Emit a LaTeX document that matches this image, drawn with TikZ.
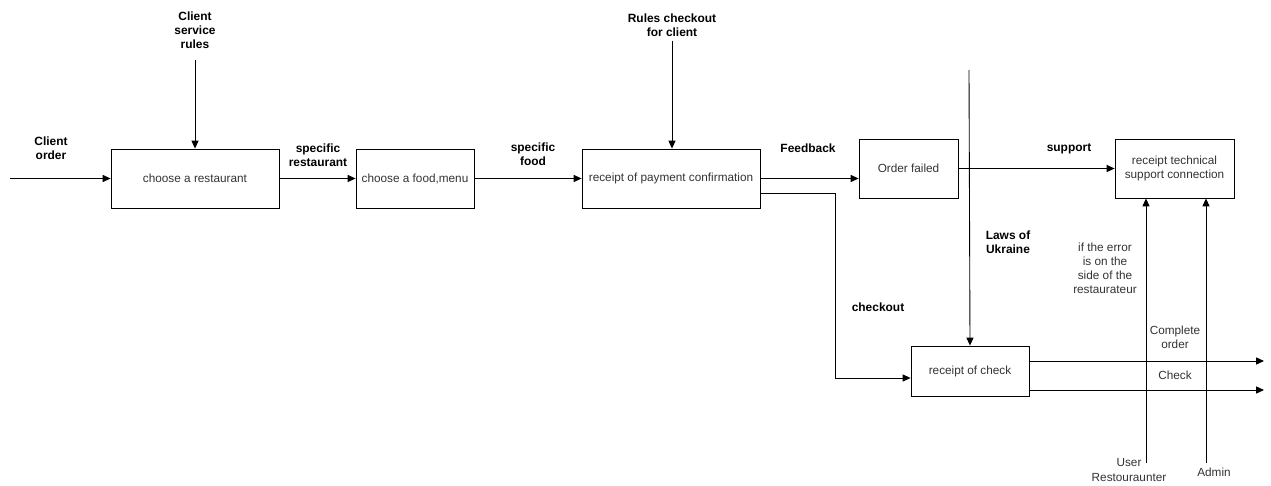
\documentclass[tikz,border=0pt]{standalone}
\usepackage{fontspec}
\setmainfont{Liberation Sans}
\usetikzlibrary{arrows.meta}
\tikzset{
  box/.style={draw, line width=0.5pt, inner sep=0pt, align=center, text=black!80,
    font=\fontsize{6.7}{8}\selectfont},
  lbl/.style={align=center, font=\fontsize{6.8}{8}\selectfont\bfseries},
  note/.style={align=center, text=black!80, font=\fontsize{6.7}{8}\selectfont},
  flow/.style={line width=0.5pt, -{Triangle[length=4.5pt,width=4pt]}},
}
\begin{document}
\begin{tikzpicture}[x=0.02cm, y=-0.02cm]
  \useasboundingbox (0,0) rectangle (1271,486);
  % boxes
  \node[box, minimum width=3.36cm, minimum height=1.18cm] (rest) at (195,178.5) {choose a restaurant};
  \node[box, minimum width=2.36cm, minimum height=1.18cm] (food) at (415,178.5) {choose a food,menu};
  \node[box, minimum width=3.56cm, minimum height=1.18cm] (pay) at (671,178.5) {receipt of payment confirmation};
  \node[box, minimum width=1.98cm, minimum height=1.18cm] (fail) at (908.5,168.5) {Order failed};
  \node[box, minimum width=2.38cm, minimum height=1.18cm] (tech) at (1174.5,168.5) {receipt technical\\support connection};
  \node[box, minimum width=2.36cm, minimum height=1.0cm] (chk) at (970,371) {receipt of check};
  % free ends
  \coordinate (order) at (10,178.5);
  \coordinate (rules) at (195,60);
  \coordinate (rulesck) at (672,41);
  \coordinate (laws) at (969,70);
  \coordinate (usr) at (1146,463);
  \coordinate (adm) at (1206,463);
  \coordinate (outA) at (1264,361);
  \coordinate (outB) at (1264,390);
  % connectors
  \draw[flow] (order) -- (rest.west);
  \draw[flow] (rules) -- (rest.north);
  \draw[flow] (rest) -- (food);
  \draw[flow] (food) -- (pay);
  \draw[flow] (rulesck) -- (pay.north -| rulesck);
  \draw[flow] (pay.east) -- (pay.east -| fail.west);
  \draw[flow] ([yshift=-0.29cm]pay.east) -- ++(75,0) |- ([yshift=-0.14cm]chk.west);
  \draw[flow] (fail) -- (tech);
  \draw[flow] (laws) -- (chk.north);
  \draw[flow] (usr) -- (usr |- tech.south);
  \draw[flow] (adm) -- (adm |- tech.south);
  \draw[flow] (chk.east |- outA) -- (outA);
  \draw[flow] (chk.east |- outB) -- (outB);
  % labels
  \node[lbl] (lorder) at (51,148) {Client\\order};
  \node[lbl] (lrules) at (195,30) {Client\\service\\rules};
  \node[lbl] (lrest) at (318,155) {specific\\restaurant};
  \node[lbl] (lfood) at (533,154) {specific\\food};
  \node[lbl] (lrulesck) at (672,25) {Rules checkout\\for client};
  \node[lbl] (lfeed) at (808,148) {Feedback};
  \node[lbl] (lcheckout) at (878,307) {checkout};
  \node[lbl] (lsupp) at (1069,149) {support};
  \node[lbl] (llaws) at (1008,242) {Laws of\\Ukraine};
  \node[note] (lerr) at (1105,268) {if the error\\is on the\\side of the\\restaurateur};
  \node[note] (lcompl) at (1175,337) {Complete\\order};
  \node[note] (lcheck) at (1175,375) {Check};
  \node[note] (lusr) at (1129,470) {User\\Restouraunter};
  \node[note] (ladm) at (1214,472) {Admin};
\end{tikzpicture}
\end{document}
